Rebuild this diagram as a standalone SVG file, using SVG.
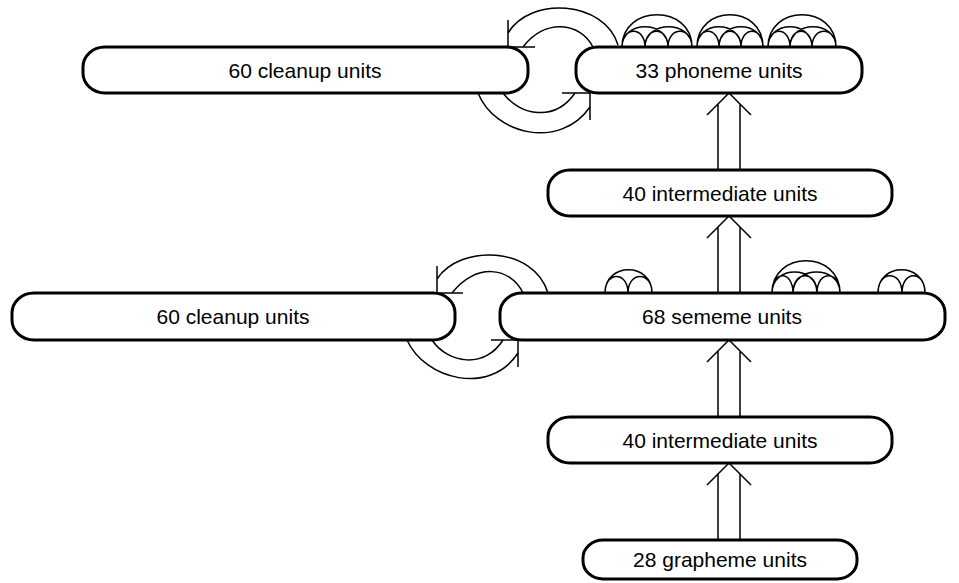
<svg xmlns="http://www.w3.org/2000/svg" width="959" height="583" viewBox="0 0 959 583">
<style>
.box{fill:#fff;stroke:#000;stroke-width:3}
.lbl{font-family:"Liberation Sans",Arial,sans-serif;font-size:21px;fill:#000;text-anchor:middle}
.c{fill:none;stroke:#000;stroke-width:1.5}
</style>
<rect width="959" height="583" fill="#fff"/>
<g id="connectors">
<!-- vertical double arrows -->
<path class="c" d="M718,540 V474 M740,540 V474 M707,485 L729,463 L751,485"/>
<path class="c" d="M718,417 V351 M740,417 V351 M707,362 L729,340 L751,362"/>
<path class="c" d="M718,293 V227 M740,293 V227 M707,238 L729,216 L751,238"/>
<path class="c" d="M718,170 V104 M740,170 V104 M707,115 L729,93 L751,115"/>
<!-- top cleanup loop -->
<path class="c" d="M618,45 C604,0 530,-4 508,33 M508,20 L508,47 L535,47"/>
<path class="c" d="M593,47 C580,22 545,18 523,47"/>
<path class="c" d="M478,93 C495,135 560,150 590,107 M562,93 L590,93 L590,120"/>
<path class="c" d="M503,93 C520,116 555,122 575,93"/>
<!-- middle cleanup loop -->
<path class="c" d="M548,293 C534,246 460,244 437,279 M437,266 L437,293 L463,293"/>
<path class="c" d="M523,293 C510,266 475,263 452,293"/>
<path class="c" d="M407,340 C425,380 490,396 518,353 M491,340 L518,340 L518,367"/>
<path class="c" d="M432,340 C448,364 485,369 503,340"/>
<!-- phoneme self arcs -->
<path class="c" d="M622,47 C622,26 645,26 645,47 C645,26 668,26 668,47 C668,26 692,26 692,47 M622,47 C622,20 668,20 668,47 M645,47 C645,20 692,20 692,47 M622,47 C622,4 692,4 692,47"/>
<path class="c" d="M697,47 C697,26 719,26 719,47 C719,26 741,26 741,47 C741,26 763,26 763,47 M697,47 C697,20 741,20 741,47 M719,47 C719,20 763,20 763,47 M697,47 C697,4 763,4 763,47"/>
<path class="c" d="M768,47 C768,26 790,26 790,47 C790,26 812,26 812,47 C812,26 836,26 836,47 M768,47 C768,20 812,20 812,47 M790,47 C790,20 836,20 836,47 M768,47 C768,4 836,4 836,47"/>
<!-- sememe self arcs -->
<path class="c" d="M605,293 C605,271 628,271 628,293 C628,271 652,271 652,293 M605,293 C605,262 652,262 652,293"/>
<path class="c" d="M772,293 C772,270 793,270 793,293 C793,270 817,270 817,293 C817,270 840,270 840,293 M772,293 C772,265 817,265 817,293 M793,293 C793,265 840,265 840,293 M772,293 C772,250 840,250 840,293"/>
<path class="c" d="M878,293 C878,270 902,270 902,293 C902,270 925,270 925,293 M878,293 C878,262 925,262 925,293"/>
</g>
<g id="cleanup1"><rect class="box" x="83" y="47" width="445" height="46" rx="22" ry="20"/><text class="lbl" x="305" y="78">60 cleanup units</text></g>
<g id="phoneme"><rect class="box" x="576" y="47" width="286" height="46" rx="22" ry="20"/><text class="lbl" x="719" y="78">33 phoneme units</text></g>
<g id="intermediate1"><rect class="box" x="548" y="170" width="344" height="46" rx="22" ry="20"/><text class="lbl" x="720" y="201">40 intermediate units</text></g>
<g id="cleanup2"><rect class="box" x="12" y="293" width="443" height="47" rx="22" ry="20"/><text class="lbl" x="233" y="324">60 cleanup units</text></g>
<g id="sememe"><rect class="box" x="500" y="293" width="445" height="47" rx="22" ry="20"/><text class="lbl" x="722" y="324">68 sememe units</text></g>
<g id="intermediate2"><rect class="box" x="548" y="417" width="344" height="46" rx="22" ry="20"/><text class="lbl" x="720" y="448">40 intermediate units</text></g>
<g id="grapheme"><rect class="box" x="583" y="540" width="274" height="39" rx="20" ry="18"/><text class="lbl" x="720" y="567">28 grapheme units</text></g>
</svg>
